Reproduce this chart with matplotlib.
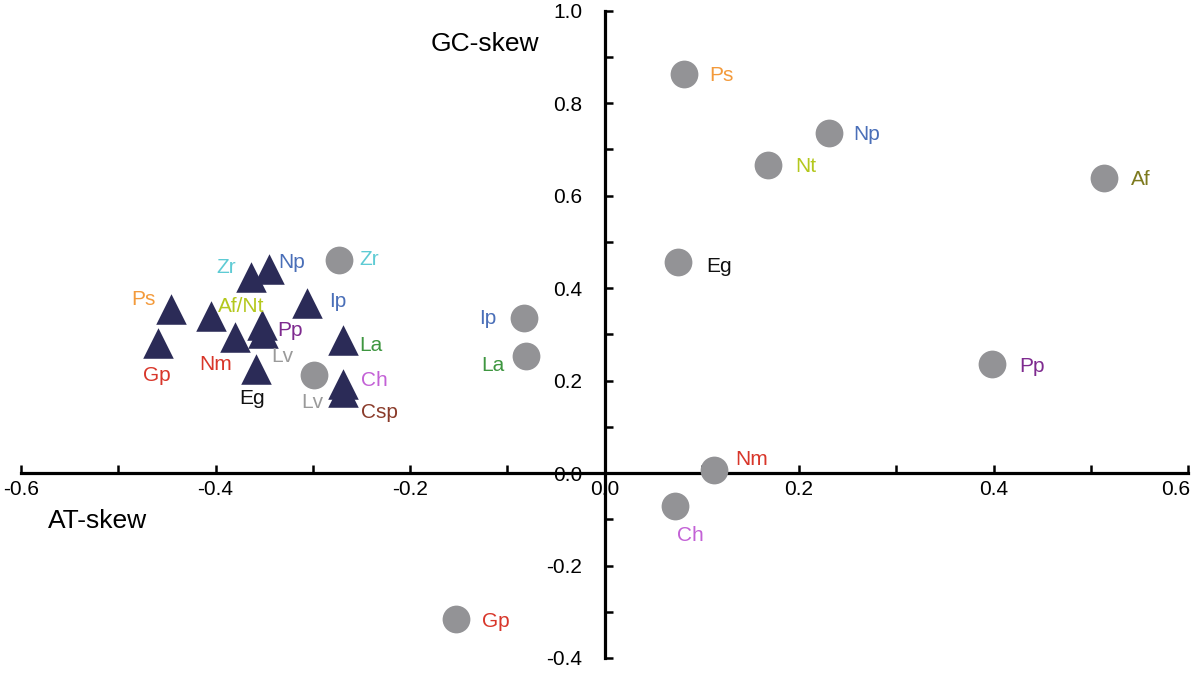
import matplotlib
matplotlib.use("Agg")
import matplotlib.pyplot as plt
import matplotlib.transforms as mtransforms
from matplotlib.ticker import MultipleLocator, FixedLocator

plt.rcParams['font.family'] = ['Liberation Sans', 'DejaVu Sans']

# circles: mitochondrial genomes (gray)
circ_names = ["Ps", "Np", "Nt", "Af", "Eg", "Ip", "La", "Pp", "Nm", "Ch", "Gp", "Zr", "Lv"]
circ_at = [0.082, 0.231, 0.168, 0.514, 0.076, -0.083, -0.081, 0.398, 0.113, 0.073, -0.153, -0.273, -0.299]
circ_gc = [0.863, 0.735, 0.666, 0.638, 0.456, 0.335, 0.253, 0.236, 0.006, -0.071, -0.316, 0.461, 0.212]

# triangles (navy)
tri_names = ["Zr", "Np", "Ps", "Af/Nt", "Ip", "Pp", "Lv", "Nm", "Gp", "La", "Ch", "Csp", "Eg"]
tri_at = [-0.363, -0.345, -0.446, -0.405, -0.306, -0.352, -0.351, -0.380, -0.459, -0.269, -0.269, -0.269, -0.358]
tri_gc = [0.424, 0.441, 0.355, 0.339, 0.368, 0.320, 0.303, 0.294, 0.281, 0.288, 0.192, 0.175, 0.225]

# label colours and offsets (points)
species_color = {
    "Ps": "#F39A3B", "Np": "#4A6FB8", "Ip": "#4A6FB8", "Nt": "#B4C81E", "Af/Nt": "#B4C81E",
    "Af": "#7D7A1F", "La": "#3E9640", "Pp": "#7E2A8F", "Nm": "#D8362A", "Gp": "#D8362A",
    "Ch": "#C361D6", "Zr": "#5ECBD4", "Lv": "#9A9A9A", "Csp": "#8A3B2A", "Eg": "#111111",
}
circ_off = [(27, -1), (27, -1), (27, -1), (26, -1), (29, -3), (-26, 0), (-24, -7),
            (29, -2), (27, 8), (11, -21), (29, -2), (22, 0), (-1, -20)]
tri_off = [(-18, 7), (16, 5), (-20, 7), (22, 7), (22, 1), (20, -4), (14, -17),
           (-14, -20), (-1, -23), (20, -4), (23, 3), (26, -15), (-3, -21)]

fig = plt.figure(figsize=(12, 6.73), dpi=100)
ax = fig.add_axes([0.0175, 0.0223, 0.9725, 0.962])

ax.scatter(circ_at, circ_gc, s=20 ** 2, marker="o", color="#939396", zorder=3, linewidths=0)
ax.scatter(tri_at, tri_gc, s=22 ** 2, marker="^", color="#2B2B57", zorder=3, linewidths=0)

for n, x, y, off in zip(circ_names, circ_at, circ_gc, circ_off):
    ax.annotate(n, (x, y), xytext=off, textcoords="offset points", ha="center", va="center",
                fontsize=15, color=species_color[n])
for n, x, y, off in zip(tri_names, tri_at, tri_gc, tri_off):
    ax.annotate(n, (x, y), xytext=off, textcoords="offset points", ha="center", va="center",
                fontsize=15, color=species_color[n])

ax.set_xlim(-0.6, 0.6)
ax.set_ylim(-0.4, 1.0)
for s in ["top", "right"]:
    ax.spines[s].set_visible(False)
ax.spines["left"].set_position(("data", 0))
ax.spines["bottom"].set_position(("data", 0))
for s in ["left", "bottom"]:
    ax.spines[s].set_linewidth(2.3)

ax.xaxis.set_major_locator(FixedLocator([-0.6, -0.4, -0.2, 0.0, 0.2, 0.4, 0.6]))
ax.xaxis.set_minor_locator(MultipleLocator(0.1))
ax.yaxis.set_major_locator(FixedLocator([-0.4, -0.2, 0.0, 0.2, 0.4, 0.6, 0.8, 1.0]))
ax.yaxis.set_minor_locator(MultipleLocator(0.1))
ax.xaxis.set_major_formatter(lambda v, p: "%.1f" % v)
ax.yaxis.set_major_formatter(lambda v, p: "%.1f" % v)

ax.tick_params(axis="x", which="both", direction="in", length=6, width=1.8, pad=5, labelsize=15)
ax.tick_params(axis="y", which="both", direction="in", length=6, width=1.8, pad=16, labelsize=15)

# last x label sits at the figure edge, nudge it inwards
fig.canvas.draw()
last = ax.get_xticklabels()[-1]
last.set_transform(last.get_transform() + mtransforms.ScaledTranslation(-9 / 72, 0, fig.dpi_scale_trans))

ax.text(-0.123, 0.928, "GC-skew", fontsize=19, ha="center", va="center")
ax.text(-0.521, -0.104, "AT-skew", fontsize=19, ha="center", va="center")

fig.savefig("out.png", dpi=100)
